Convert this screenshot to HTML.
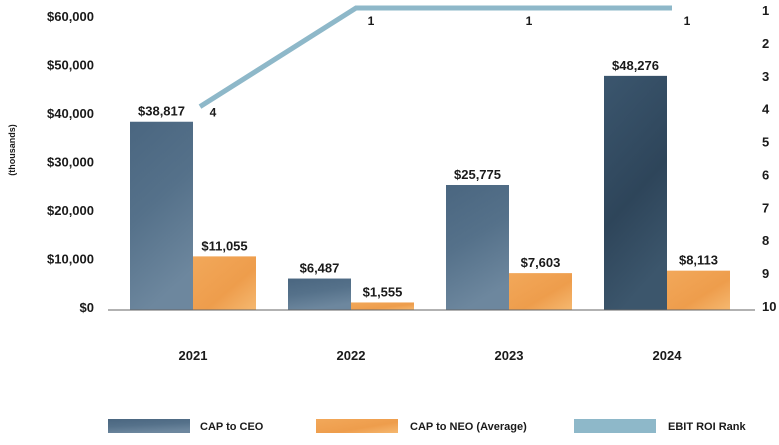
<!DOCTYPE html>
<html><head><meta charset="utf-8">
<style>
body{margin:0;background:#fff;width:779px;height:440px;overflow:hidden;font-family:"Liberation Sans",sans-serif;}
svg text{font-family:"Liberation Sans",sans-serif;}
</style></head>
<body>
<svg id="chart" width="779" height="440" xmlns="http://www.w3.org/2000/svg">
<defs>
<linearGradient id="gCeo" x1="0" y1="0" x2="0.3" y2="1">
<stop offset="0" stop-color="#4a6680"/><stop offset="0.5" stop-color="#55718a"/><stop offset="1" stop-color="#6d879e"/>
</linearGradient>
<linearGradient id="gCeoDark" x1="0" y1="0" x2="0.3" y2="1">
<stop offset="0" stop-color="#3b566e"/><stop offset="0.6" stop-color="#2e455a"/><stop offset="1" stop-color="#3c566c"/>
</linearGradient>
<linearGradient id="gNeo" x1="0" y1="0" x2="1" y2="1">
<stop offset="0" stop-color="#f2a85a"/><stop offset="0.6" stop-color="#ee9d4c"/><stop offset="1" stop-color="#f5b870"/>
</linearGradient>
</defs>
<g id="plot"></g>
</svg>
<script>
const years = ["2021","2022","2023","2024"];
const ceo = [38817, 6487, 25775, 48276];
const neo = [11055, 1555, 7603, 8113];
const rank = [4, 1, 1, 1];
const leftTicks = [0,10000,20000,30000,40000,50000,60000];
const rightTicks = [1,2,3,4,5,6,7,8,9,10];

const NS="http://www.w3.org/2000/svg";
const g=document.getElementById('plot');
const y0=310, yTop=19, vmax=60000;
const yL=v=>y0-(v/vmax)*(y0-yTop);
const yR=r=>11+(r-1)*(307-11)/9;
const cx=i=>193+i*158;
const bw=63;
function mk(tag,attrs,txt){const e=document.createElementNS(NS,tag);for(const k in attrs)e.setAttribute(k,attrs[k]);if(txt!==undefined)e.textContent=txt;g.appendChild(e);return e;}
const fmt=v=>"$"+v.toLocaleString("en-US");

leftTicks.forEach(t=>{
  const e=mk('text',{x:94,y:yL(t)+2,'text-anchor':'end','font-size':13,'font-weight':'bold',fill:'#1a1a1a'},fmt(t));
  
  
});
rightTicks.forEach(t=>{
  const e=mk('text',{x:762,y:yR(t)+4,'font-size':13,'font-weight':'bold',fill:'#1a1a1a'},String(t));
  
  
});
const yt=mk('text',{x:0,y:0,transform:'translate(15,150) rotate(-90)','text-anchor':'middle','font-size':9,'font-weight':'bold',fill:'#1a1a1a'},'(thousands)');



years.forEach((yr,i)=>{
  const c=cx(i);
  const b1=mk('rect',{x:c-bw,y:yL(ceo[i]),width:bw,height:y0-yL(ceo[i]),fill:i===3?'url(#gCeoDark)':'url(#gCeo)'});
  
  
  const b2=mk('rect',{x:c,y:yL(neo[i]),width:bw,height:y0-yL(neo[i]),fill:'url(#gNeo)'});
  
  
  const l1=mk('text',{x:c-bw/2,y:yL(ceo[i])-6,'text-anchor':'middle','font-size':13,'font-weight':'bold',fill:'#1a1a1a'},fmt(ceo[i]));
  
  
  const l2=mk('text',{x:c+bw/2,y:yL(neo[i])-6,'text-anchor':'middle','font-size':13,'font-weight':'bold',fill:'#1a1a1a'},fmt(neo[i]));
  
  
  const xl=mk('text',{x:c,y:360,'text-anchor':'middle','font-size':13,'font-weight':'bold',fill:'#1a1a1a'},yr);
  
  
});

const ax=mk('line',{x1:108,y1:y0,x2:755,y2:y0,stroke:'#666','stroke-width':1});



const pts=rank.map((r,i)=>[cx(i)+(i===0?7:5),yR(r)-3]);
const pl=mk('polyline',{points:pts.map(p=>p.join(',')).join(' '),fill:'none',stroke:'#8eb8c9','stroke-width':5});


rank.forEach((r,i)=>{
  const t=mk('text',{x:cx(i)+20,y:i===0?yR(r)+7:yR(r)+14,'text-anchor':'middle','font-size':12,'font-weight':'bold',fill:'#1a1a1a'},String(r));
  
  
});

const leg=[['url(#gCeo)',108,'CAP to CEO',200],['url(#gNeo)',316,'CAP to NEO (Average)',410],['#8eb8c9',574,'EBIT ROI Rank',668]];
leg.forEach(l=>{
  const r=mk('rect',{x:l[1],y:419,width:82,height:14,fill:l[0]});
  
  
  const t=mk('text',{x:l[3],y:430,'font-size':11,'font-weight':'bold',fill:'#1a1a1a'},l[2]);
  
  
});
</script>
</body></html>
